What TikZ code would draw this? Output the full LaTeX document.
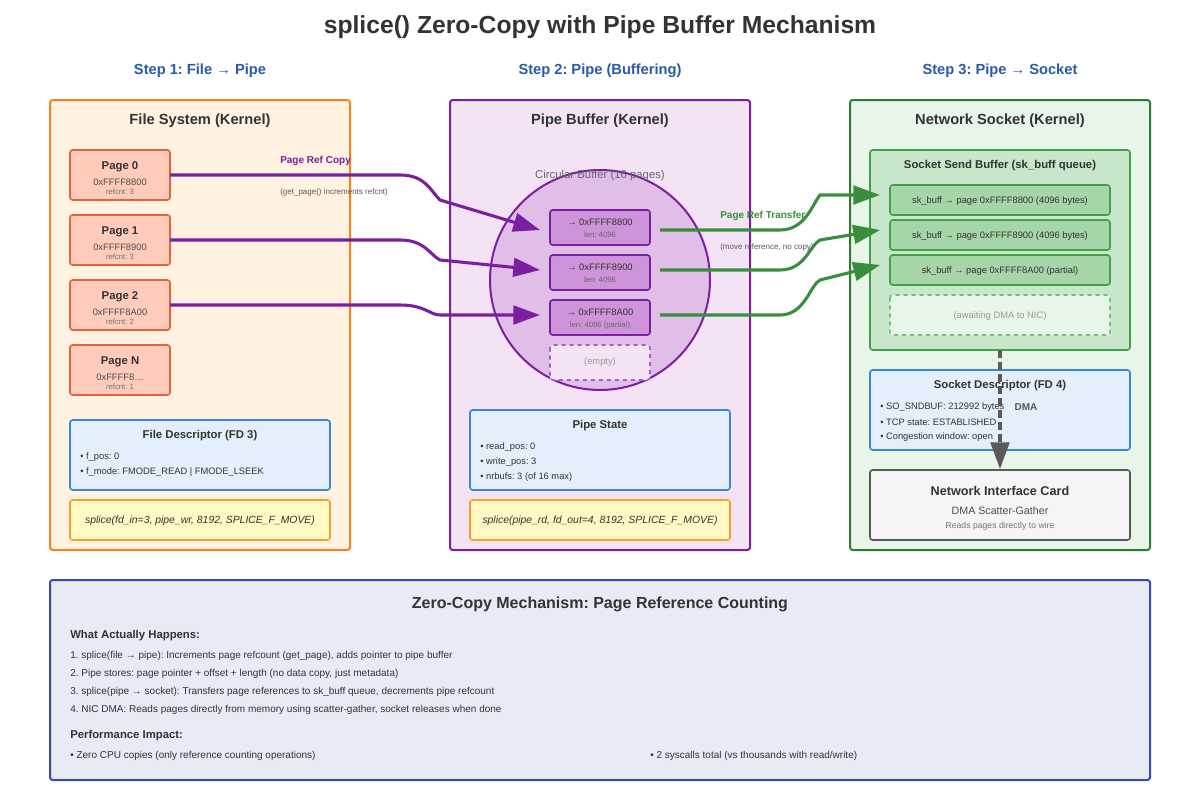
\documentclass[tikz,border=0pt]{standalone}
\usepackage{fontspec}
\setmainfont{Liberation Sans}
\usetikzlibrary{arrows.meta}
\frenchspacing
\definecolor{stepblue}{HTML}{2A5AA8}
\definecolor{orgB}{HTML}{F5821F}\definecolor{orgF}{HTML}{FFF2E0}
\definecolor{pgF}{HTML}{FFCCBC}\definecolor{pgB}{HTML}{E8613C}
\definecolor{fdF}{HTML}{E3F0FC}\definecolor{fdB}{HTML}{3A86D8}
\definecolor{yF}{HTML}{FFF9C4}\definecolor{yB}{HTML}{F5A030}
\definecolor{puB}{HTML}{7B1FA2}\definecolor{puF}{HTML}{F3E3F5}
\definecolor{cirF}{HTML}{E1BEE7}\definecolor{slF}{HTML}{CE93D8}
\definecolor{grB}{HTML}{2E7D32}\definecolor{grF}{HTML}{E8F5E9}
\definecolor{sbF}{HTML}{C8E6C9}\definecolor{sbB}{HTML}{43A047}\definecolor{skF}{HTML}{A5D6A7}
\definecolor{arG}{HTML}{388E3C}
\definecolor{blB}{HTML}{3949AB}\definecolor{blF}{HTML}{E8EAF6}
\definecolor{txt}{HTML}{333333}
\tikzset{
 box/.style={rounded corners=2pt,line width=1.5pt},
 fs/.style={node font=\fontsize{#1}{#1}\selectfont},
 lbl/.style={inner sep=0,text=txt},
 parr/.style={draw=puB,line width=2.3pt,-{Triangle[length=20,width=14]}},
 garr/.style={draw=arG,line width=2.3pt,-{Triangle[length=20,width=14]}},
}
\begin{document}
\begin{tikzpicture}[x=0.75pt,y=-0.75pt]
\useasboundingbox (0,0) rectangle (1200,800);
\fill[white] (0,0) rectangle (1200,800);
\node[lbl,fs=18.5,font=\bfseries] (title) at (600,27) {splice() Zero-Copy with Pipe Buffer Mechanism};
\node[lbl,fs=11,text=stepblue,font=\bfseries] (st1) at (200,71) {Step 1: File → Pipe};
\node[lbl,fs=11,text=stepblue,font=\bfseries] (st2) at (600,71) {Step 2: Pipe (Buffering)};
\node[lbl,fs=11,text=stepblue,font=\bfseries] (st3) at (1000,71) {Step 3: Pipe → Socket};
% panels
\draw[box,draw=orgB,fill=orgF] (50,100) rectangle (350,550);
\draw[box,draw=puB,fill=puF] (450,100) rectangle (750,550);
\draw[box,draw=grB,fill=grF] (850,100) rectangle (1150,550);
\node[lbl,fs=11,font=\bfseries] (t1) at (200,121) {File System (Kernel)};
\node[lbl,fs=11,font=\bfseries] (t2) at (600,121) {Pipe Buffer (Kernel)};
\node[lbl,fs=11,font=\bfseries] (t3) at (1000,121) {Network Socket (Kernel)};
% pages
\foreach \n/\y/\a/\r in {0/150/{0xFFFF8800}/3,1/215/{0xFFFF8900}/3,2/280/{0xFFFF8A00}/2,N/345/{0xFFFF8\ldots}/1}{
 \draw[box,draw=pgB,fill=pgF,line width=1.2pt] (70,\y) rectangle (170,\y+50);
 \coordinate (p\n) at (170,\y+25);
 \node[lbl,fs=8.5,font=\bfseries] at (120,\y+17) {Page \n};
 \node[lbl,fs=7,text=black!70] at (120,\y+32) {\a};
 \node[lbl,fs=5.8,text=black!55] at (120,\y+42) {refcnt: \r};
}
\draw[box,draw=fdB,fill=fdF,line width=1.2pt] (70,420) rectangle (330,490);
\node[lbl,fs=8.5,font=\bfseries] (fd3) at (200,436) {File Descriptor (FD 3)};
\node[lbl,fs=7,anchor=west] at (80,457) {• f\_pos: 0};
\node[lbl,fs=7,anchor=west] at (80,472) {• f\_mode: FMODE\_READ | FMODE\_LSEEK};
\draw[box,draw=yB,fill=yF,line width=1.2pt] (70,500) rectangle (330,540);
\node[lbl,fs=7.8,font=\itshape] (c1) at (200,521) {splice(fd\_in=3, pipe\_wr, 8192, SPLICE\_F\_MOVE)};
% pipe
\draw[draw=puB,fill=cirF,line width=1.5pt] (600,280) circle [radius=110];
\node[lbl,fs=8.5,text=black!60] (cb) at (600,176) {Circular Buffer (16 pages)};
\foreach \i/\y/\a/\l in {0/210/0xFFFF8800/{len: 4096},1/255/0xFFFF8900/{len: 4096},2/300/0xFFFF8A00/{len: 4096 (partial)}}{
 \draw[box,draw=puB,fill=slF,line width=1.2pt] (550,\y) rectangle (650,\y+35);
 \node[lbl,fs=7] at (600,\y+12) {→ \a};
 \node[lbl,fs=5.8,text=black!60] at (600,\y+25) {\l};
}
\coordinate (s0) at (540,230);\coordinate (s1) at (540,270);\coordinate (s2) at (540,315);
\coordinate (o0) at (660,230);\coordinate (o1) at (660,270);\coordinate (o2) at (660,315);
\draw[box,draw=puB!70,fill=puF,line width=1.2pt,dashed] (550,345) rectangle (650,380);
\node[lbl,fs=7,text=black!40] (em) at (600,362) {(empty)};
\draw[box,draw=fdB,fill=fdF,line width=1.2pt] (470,410) rectangle (730,490);
\node[lbl,fs=8.5,font=\bfseries] (ps) at (600,426) {Pipe State};
\node[lbl,fs=7,anchor=west] at (480,447) {• read\_pos: 0};
\node[lbl,fs=7,anchor=west] at (480,462) {• write\_pos: 3};
\node[lbl,fs=7,anchor=west] at (480,477) {• nrbufs: 3 (of 16 max)};
\draw[box,draw=yB,fill=yF,line width=1.2pt] (470,500) rectangle (730,540);
\node[lbl,fs=7.8,font=\itshape] (c2) at (600,521) {splice(pipe\_rd, fd\_out=4, 8192, SPLICE\_F\_MOVE)};
% socket
\draw[box,draw=sbB,fill=sbF,line width=1.2pt] (870,150) rectangle (1130,350);
\node[lbl,fs=8.5,font=\bfseries] (sb) at (1000,166) {Socket Send Buffer (sk\_buff queue)};
\foreach \i/\y/\t in {0/185/{page 0xFFFF8800 (4096 bytes)},1/220/{page 0xFFFF8900 (4096 bytes)},2/255/{page 0xFFFF8A00 (partial)}}{
 \draw[box,draw=sbB,fill=skF,line width=1.2pt] (890,\y) rectangle (1110,\y+30);
 \node[lbl,fs=7] at (1000,\y+16) {sk\_buff → \t};
}
\coordinate (k0) at (880,195);\coordinate (k1) at (880,230);\coordinate (k2) at (880,265);
\draw[box,draw=sbB!70,fill=grF,line width=1.2pt,dashed] (890,295) rectangle (1110,335);
\node[lbl,fs=7,text=black!40] (aw) at (1000,316) {(awaiting DMA to NIC)};
\draw[box,draw=fdB,fill=fdF,line width=1.2pt] (870,370) rectangle (1130,450);
\node[lbl,fs=8.5,font=\bfseries] (sd) at (1000,386) {Socket Descriptor (FD 4)};
\node[lbl,fs=7,anchor=west] at (880,407) {• SO\_SNDBUF: 212992 bytes};
\node[lbl,fs=7,anchor=west] at (880,422) {• TCP state: ESTABLISHED};
\node[lbl,fs=7,anchor=west] at (880,437) {• Congestion window: open};
\draw[box,draw=black!65,fill=black!4,line width=1.2pt] (870,470) rectangle (1130,540);
\node[lbl,fs=9.5,font=\bfseries] (nic) at (1000,491) {Network Interface Card};
\node[lbl,fs=8,text=black!70] at (1000,511) {DMA Scatter-Gather};
\node[lbl,fs=6.5,text=black!55] at (1000,526) {Reads pages directly to wire};
\coordinate (dtop) at (1000,350);\coordinate (dbot) at (1000,469);
\draw[draw=black!65,line width=2.3pt,dash pattern=on 6pt off 3pt,-{Triangle[length=20,width=14]}] (dtop) -- (dbot);
\node[lbl,fs=7.5,text=black!65,font=\bfseries] (dma) at (1026,407) {DMA};
% arrows
\draw[parr] (p0) -- (400,175) .. controls (425,175) and (430,190) .. (440,200) -- (s0);
\draw[parr] (p1) -- (400,240) .. controls (425,240) and (430,255) .. (440,260) -- (s1);
\draw[parr] (p2) -- (400,305) .. controls (425,305) and (430,315) .. (440,315) -- (s2);
\node[lbl,fs=7.5,text=puB,font=\bfseries,anchor=west] (prc) at (280,161) {Page Ref Copy};
\node[lbl,fs=6,text=black!65,anchor=west] (prc2) at (280,192) {(get\_page() increments refcnt)};
\draw[garr] (o0) -- (780,230) .. controls (805,230) and (812,205) .. (820,195) -- (k0);
\draw[garr] (o1) -- (780,270) .. controls (805,270) and (810,245) .. (820,240) -- (k1);
\draw[garr] (o2) -- (780,315) .. controls (805,315) and (810,285) .. (820,280) -- (k2);
\node[lbl,fs=7.5,text=arG,font=\bfseries,anchor=west] (prt) at (720,216) {Page Ref Transfer};
\node[lbl,fs=6,text=black!65,anchor=west] (prt2) at (720,247) {(move reference, no copy)};
% bottom
\draw[box,draw=blB,fill=blF] (50,580) rectangle (1150,780);
\node[lbl,fs=12,font=\bfseries] (bt) at (600,604) {Zero-Copy Mechanism: Page Reference Counting};
\node[lbl,fs=8.5,font=\bfseries,anchor=west] (wh) at (70,636) {What Actually Happens:};
\node[lbl,fs=7.5,anchor=west] at (70,656) {1. splice(file → pipe): Increments page refcount (get\_page), adds pointer to pipe buffer};
\node[lbl,fs=7.5,anchor=west] at (70,674) {2. Pipe stores: page pointer + offset + length (no data copy, just metadata)};
\node[lbl,fs=7.5,anchor=west] at (70,692) {3. splice(pipe → socket): Transfers page references to sk\_buff queue, decrements pipe refcount};
\node[lbl,fs=7.5,anchor=west] at (70,710) {4. NIC DMA: Reads pages directly from memory using scatter-gather, socket releases when done};
\node[lbl,fs=8.5,font=\bfseries,anchor=west] (pi) at (70,736) {Performance Impact:};
\node[lbl,fs=7.5,anchor=west] at (70,756) {• Zero CPU copies (only reference counting operations)};
\node[lbl,fs=7.5,anchor=west] at (650,756) {• 2 syscalls total (vs thousands with read/write)};
\end{tikzpicture}
\end{document}
